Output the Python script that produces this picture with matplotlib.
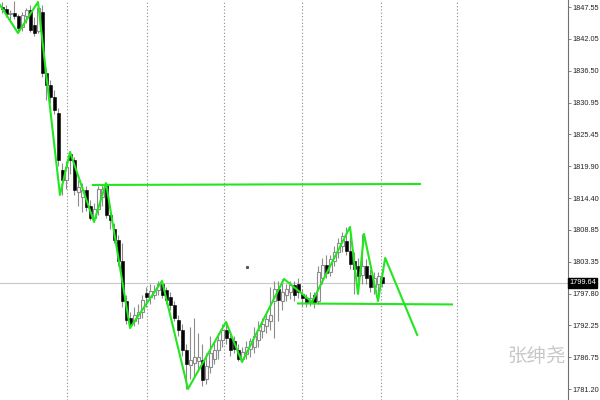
import matplotlib
matplotlib.use("Agg")
import matplotlib.pyplot as plt
import numpy as np

# ---- data -------------------------------------------------------------
opens = [1847.6, 1847.2, 1846.3, 1846.6, 1846.0, 1844.1, 1846.0, 1847.0, 1844.5, 1843.5,
         1846.7, 1836.1, 1834.0, 1832.0, 1829.2, 1819.3, 1817.5, 1822.0, 1821.0, 1815.5,
         1814.6, 1815.8, 1813.0, 1811.0, 1812.5, 1814.6, 1816.8, 1811.5, 1809.0, 1807.1,
         1803.5, 1796.5, 1793.5, 1793.0, 1793.5, 1794.6, 1797.9, 1797.2, 1797.5, 1798.4,
         1799.5, 1798.4, 1797.2, 1795.8, 1793.2, 1791.5, 1788.0, 1785.4, 1785.8, 1786.0,
         1786.3, 1783.0, 1785.0, 1786.5, 1787.9, 1789.7, 1791.5, 1790.0, 1789.5, 1788.0,
         1786.5, 1787.2, 1788.2, 1788.5, 1789.8, 1791.2, 1792.2, 1793.0, 1796.5, 1798.5,
         1796.5, 1797.5, 1798.0, 1799.2, 1799.5, 1797.8, 1797.0, 1796.3, 1797.5, 1796.5,
         1800.5, 1802.8, 1801.5, 1803.5, 1805.0, 1806.0, 1807.0, 1805.2, 1803.5, 1802.5,
         1801.0, 1802.5, 1801.0, 1799.0, 1799.5, 1800.6]
highs = [1848.5, 1847.9, 1847.0, 1848.6, 1846.4, 1846.8, 1847.5, 1848.0, 1845.8, 1848.5,
         1848.0, 1837.0, 1835.0, 1833.2, 1830.0, 1820.5, 1820.8, 1822.4, 1821.6, 1817.5,
         1817.0, 1816.5, 1814.0, 1813.5, 1816.5, 1816.8, 1817.0, 1812.0, 1810.0, 1808.0,
         1806.5, 1797.5, 1794.5, 1795.5, 1796.0, 1797.5, 1799.0, 1799.5, 1799.2, 1800.0,
         1800.0, 1799.0, 1798.0, 1796.5, 1794.0, 1792.5, 1789.0, 1792.0, 1793.5, 1791.0,
         1789.0, 1787.5, 1790.5, 1789.5, 1791.0, 1792.5, 1792.9, 1791.2, 1790.5, 1789.0,
         1788.5, 1789.5, 1790.0, 1792.0, 1793.0, 1793.5, 1794.5, 1799.0, 1800.0, 1800.0,
         1800.3, 1799.5, 1800.0, 1800.0, 1800.5, 1798.5, 1797.8, 1798.0, 1798.0, 1802.5,
         1804.0, 1804.5, 1804.5, 1806.0, 1807.5, 1808.5, 1809.4, 1808.0, 1805.0, 1804.0,
         1808.2, 1803.8, 1802.0, 1801.5, 1801.5, 1801.2]
lows = [1846.6, 1845.8, 1845.2, 1845.5, 1843.1, 1843.4, 1844.8, 1843.2, 1842.5, 1843.0,
        1835.5, 1831.4, 1831.0, 1829.0, 1820.0, 1814.9, 1816.0, 1818.5, 1815.0, 1813.0,
        1812.0, 1812.2, 1810.6, 1810.2, 1811.5, 1813.0, 1811.0, 1809.0, 1806.5, 1802.5,
        1795.5, 1792.5, 1791.8, 1792.2, 1792.5, 1793.5, 1795.5, 1796.0, 1796.8, 1797.5,
        1797.0, 1796.0, 1795.0, 1793.0, 1790.5, 1787.0, 1781.2, 1783.0, 1783.5, 1784.5,
        1781.8, 1782.0, 1784.0, 1785.5, 1786.5, 1788.5, 1789.0, 1787.0, 1787.5, 1786.0,
        1785.9, 1786.5, 1786.8, 1787.5, 1788.5, 1790.0, 1791.0, 1791.5, 1790.0, 1793.0,
        1795.0, 1796.5, 1796.8, 1796.5, 1797.0, 1795.5, 1795.5, 1795.6, 1795.3, 1796.0,
        1799.5, 1800.5, 1800.8, 1802.5, 1804.0, 1805.0, 1804.5, 1802.0, 1797.7, 1800.0,
        1799.5, 1799.5, 1798.0, 1797.8, 1796.5, 1799.0]
closes = [1847.2, 1846.3, 1846.6, 1846.0, 1844.0, 1846.2, 1847.0, 1843.6, 1843.0, 1847.5,
          1836.1, 1834.0, 1832.0, 1829.7, 1821.0, 1817.5, 1819.8, 1821.0, 1815.8, 1816.3,
          1815.8, 1812.8, 1811.0, 1812.5, 1815.9, 1816.0, 1811.5, 1810.5, 1807.1, 1803.5,
          1796.5, 1793.2, 1792.4, 1794.0, 1794.6, 1796.7, 1797.2, 1798.3, 1798.2, 1799.4,
          1797.5, 1796.7, 1795.8, 1793.5, 1791.5, 1788.0, 1785.5, 1786.2, 1786.8, 1786.8,
          1782.8, 1785.2, 1787.5, 1787.9, 1789.7, 1791.5, 1790.0, 1788.0, 1788.2, 1786.5,
          1787.6, 1788.5, 1789.5, 1790.5, 1791.5, 1792.5, 1793.4, 1794.0, 1798.6, 1796.6,
          1798.0, 1798.5, 1799.2, 1797.5, 1798.0, 1797.0, 1796.3, 1797.0, 1796.2, 1801.5,
          1802.8, 1801.3, 1803.8, 1805.0, 1806.5, 1807.8, 1805.2, 1803.0, 1802.0, 1800.8,
          1802.5, 1800.5, 1799.0, 1800.5, 1800.8, 1799.64]

# zigzag pivots (bar index, price)
zz_idx = [-0.5, 4, 9, 14.5, 17, 23, 26, 32, 40, 46.5, 56, 60, 70.5, 77.5, 87, 89, 90.5, 94, 95.8, 103.8]
zz_price = [1847.95, 1843.08, 1848.47, 1814.93, 1822.40, 1810.24, 1817.01, 1791.81, 1799.98,
            1781.21, 1792.86, 1785.90, 1800.33, 1796.33, 1809.37, 1797.72, 1808.15, 1796.51,
            1803.98, 1790.60]

# horizontal levels (start idx, end idx, start price, end price)
upper_level = ([22.75, 104.5], [1816.67, 1816.84])
lower_level = ([74.0, 112.5], [1796.07, 1795.90])

current_price = 1799.64
yticks = [1847.55, 1842.05, 1836.50, 1830.95, 1825.45, 1819.90, 1814.40,
          1808.85, 1803.35, 1797.80, 1792.25, 1786.75, 1781.20]
grid_idx = [16.25, 36.25, 55.5, 75.0, 94.75, 113.75]
watermark = "张绅尧"

# ---- plot -------------------------------------------------------------
fig = plt.figure(figsize=(6, 4), dpi=100)
ax = fig.add_axes([0, 0, 568 / 600, 1])
ax.set_xlim(-0.5, 141.5)
ax.set_ylim(1779.29, 1848.82)

for g in grid_idx:
    ax.axvline(g, color="#8a8a8a", lw=0.8, ls=(0, (1, 2)), zorder=1)
ax.axhline(current_price, color="#c8c8c8", lw=0.8, zorder=1)

x = np.arange(len(closes))
o = np.array(opens); c = np.array(closes); h = np.array(highs); l = np.array(lows)
bull = c >= o
ax.vlines(x, l, h, color="#8c8c8c", lw=0.8, zorder=2)
ax.bar(x[~bull], (o - c)[~bull], bottom=c[~bull], width=0.75, color="black",
       edgecolor="black", lw=0.4, zorder=3)
ax.bar(x[bull], np.maximum((c - o)[bull], 0.15), bottom=o[bull], width=0.75, color="white",
       edgecolor="#8c8c8c", lw=0.8, zorder=3)

green = "#22e61e"
ax.plot(zz_idx, zz_price, color=green, lw=1.5, zorder=4)
ax.plot(upper_level[0], upper_level[1], color=green, lw=1.5, zorder=4)
ax.plot(lower_level[0], lower_level[1], color=green, lw=1.5, zorder=4)
ax.plot([61.25], [1802.4], marker="s", ms=1.2, color="#555555", zorder=4)

ax.text(0.996, 0.11, watermark, transform=ax.transAxes, ha="right", va="center",
        fontsize=14, color="#c8c8c8", family=["Noto Sans CJK SC", "DejaVu Sans"], zorder=5)

for s in ["top", "left", "bottom"]:
    ax.spines[s].set_visible(False)
ax.spines["right"].set_color("#707070")
ax.spines["right"].set_linewidth(0.8)
ax.set_xticks([])
ax.yaxis.tick_right()
ax.set_yticks(yticks)
ax.set_yticklabels([f"{v:.2f}" for v in yticks], family="Liberation Sans")
ax.tick_params(axis="y", direction="out", length=2, width=0.6, color="#707070",
               labelsize=5.3, pad=1, labelcolor="#222222")

ax.text(1.002, current_price, f"{current_price:.2f}", transform=ax.get_yaxis_transform(),
        ha="left", va="center", fontsize=5.3, color="white", family="Liberation Sans",
        bbox=dict(boxstyle="square,pad=0.2", fc="black", ec="black"), zorder=6, clip_on=False)

fig.savefig("out.png", dpi=100, facecolor="white")
